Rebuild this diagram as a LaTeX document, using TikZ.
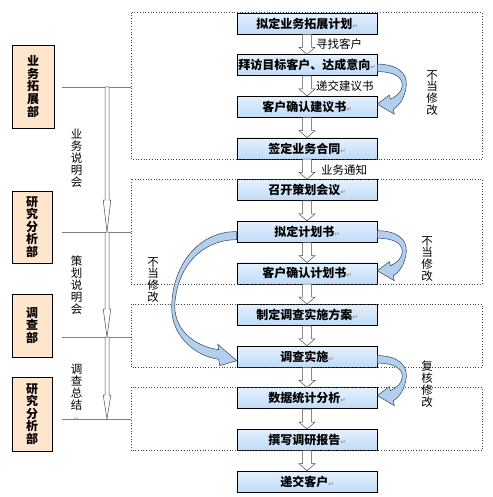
\documentclass[tikz,border=0pt]{standalone}
\usepackage{fontspec}
\newfontfamily\cjk{Noto Sans CJK SC}
\newfontfamily\symfont{DejaVu Sans}
\usetikzlibrary{calc}

\definecolor{boxtop}{RGB}{228,240,253}
\definecolor{boxbot}{RGB}{192,219,247}
\definecolor{deptfill}{RGB}{255,229,204}
\definecolor{bendfill}{RGB}{178,207,238}
\definecolor{benddraw}{RGB}{55,65,85}
\definecolor{framegray}{RGB}{70,70,70}
\definecolor{arrowgray}{RGB}{75,75,75}
\definecolor{retgray}{RGB}{150,150,150}

\newcommand{\retmark}{{\symfont\fontsize{6.5}{7}\selectfont\color{retgray}↵}}

\tikzset{
  stepbox/.style={draw=black, line width=0.6pt, top color=boxtop, bottom color=boxbot,
    minimum width=140pt, minimum height=21pt, inner sep=0pt,
    font=\cjk\bfseries\fontsize{12}{13}\selectfont},
  dept/.style={draw=black, line width=0.6pt, fill=deptfill, inner sep=0pt, align=center,
    font=\cjk\bfseries\fontsize{12}{12.6}\selectfont},
  vtext/.style={align=center, inner sep=0pt, anchor=north, font=\cjk\fontsize{11.5}{11.9}\selectfont},
  lbl/.style={anchor=west, inner sep=0pt, font=\cjk\fontsize{11.5}{12}\selectfont},
  frame/.style={draw=framegray, dotted, line width=0.7pt},
  rule/.style={draw=gray, line width=0.6pt},
  loopband/.style={fill=bendfill, draw=benddraw, line width=0.5pt},
  hollow/.style args={#1/#2/#3}{draw=arrowgray, fill=white, line width=0.5pt,
    to path={let \p1=(\tikztostart), \p2=(\tikztotarget) in
      (\x1-#1pt,\y1) -- (\x1-#1pt,\y2+#3pt) -- (\x1-#2pt,\y2+#3pt) -- (\x1,\y2)
      -- (\x1+#2pt,\y2+#3pt) -- (\x1+#1pt,\y2+#3pt) -- (\x1+#1pt,\y1) -- cycle}}
}

\begin{document}
\begin{tikzpicture}[x=1pt, y=1pt]
\useasboundingbox (0,0) rectangle (492,-497);

\coordinate (fl) at (131,0);
\coordinate (fr) at (482,0);

% steps
\foreach [count=\i] \t in {拟定业务拓展计划,拜访目标客户、达成意向,客户确认建议书,签定业务合同,召开策划会议,拟定计划书,客户确认计划书,制定调查实施方案,调查实施,数据统计分析,撰写调研报告,递交客户}{
	\node[stepbox] (b\i) at (307,{-23.5-41.64*(\i-1)}) {\t\retmark};
}

% dotted frames
\draw[frame] (b1.north -| fl) rectangle (b4.south -| fr);
\draw[frame] (b5.north -| fl) rectangle (b7.south -| fr);
\draw[frame] (b8.north -| fl) rectangle (b9.south -| fr);
\draw[frame] (b10.north -| fl) rectangle (b11.south -| fr);

\foreach \i [evaluate=\i as \j using int(\i+1)] in {1,...,11}{
	\draw[hollow=4.5/8/7] (b\i.south) to (b\j.north);
}

\node[lbl] (t1) at (316,-44.5) {寻找客户};
\node[lbl] (t2) at (316,-86.5) {递交建议书};
\node[lbl] (t3) at (321,-170) {业务通知};

% departments
\node[dept, minimum width=42pt, minimum height=83pt] (d1) at (33,-86.5) {业\\务\\拓\\展\\部};
\node[dept, minimum width=40pt, minimum height=72pt] (d2) at (32,-227) {研\\究\\分\\析\\部};
\node[dept, minimum width=40pt, minimum height=63pt] (d3) at (32,-325.5) {调\\查\\部};
\node[dept, minimum width=40pt, minimum height=74pt] (d4) at (32,-414) {研\\究\\分\\析\\部};

\foreach [count=\i] \y in {87,232,337,419}{
	\coordinate (l\i) at (62,-\y);
	\coordinate (m\i) at (107,-\y);
	\draw[rule] (l\i) -- (l\i -| fl);
}
\draw[hollow=2/3.8/32] (m1) to (m2);
\draw[hollow=2/3.8/28] (m2) to (m3);
\draw[hollow=2/3.8/24] (m3) to (m4);

\node[vtext] (v1) at (76.5,-129) {业\\务\\说\\明\\会};
\node[vtext] (v2) at (76.5,-256) {策\\划\\说\\明\\会};
\node[vtext] (v3) at (76.5,-364) {调\\查\\总\\结\\\retmark};

% rework loops
\foreach \i in {2,6,9}{
	\begin{scope}[shift={(b\i.east)}, y=-1pt]
	\draw[loopband] (0,-1) .. controls (20,-1) and (30,8) .. (29,20)
		.. controls (28,31) and (23,40) .. (16,44) -- (17,49) -- (0,39) -- (12,30) -- (13,34)
		.. controls (20,31) and (25,26) .. (25,20) .. controls (25,12) and (17,6.5) .. (0,6.5) -- cycle;
	\end{scope}
}
\begin{scope}[shift={(b6.west)}, x=-1pt, y=-1pt]
\draw[loopband] (0,0) .. controls (35,-1) and (64,30) .. (65,74.5)
	.. controls (66,105) and (40,125) .. (18,127.5) -- (17,134) -- (0,129) -- (19,112.5) -- (18,118)
	.. controls (40,115) and (62,100) .. (62,74) .. controls (60,35) and (35,8) .. (0,8) -- cycle;
\end{scope}

\node[vtext] (r1) at (432,-70) {不\\当\\修\\改};
\node[vtext] (r2) at (427,-236) {不\\当\\修\\改};
\node[vtext] (r3) at (153,-257) {不\\当\\修\\改};
\node[vtext] (r4) at (427,-361) {复\\核\\修\\改};

\end{tikzpicture}
\end{document}
